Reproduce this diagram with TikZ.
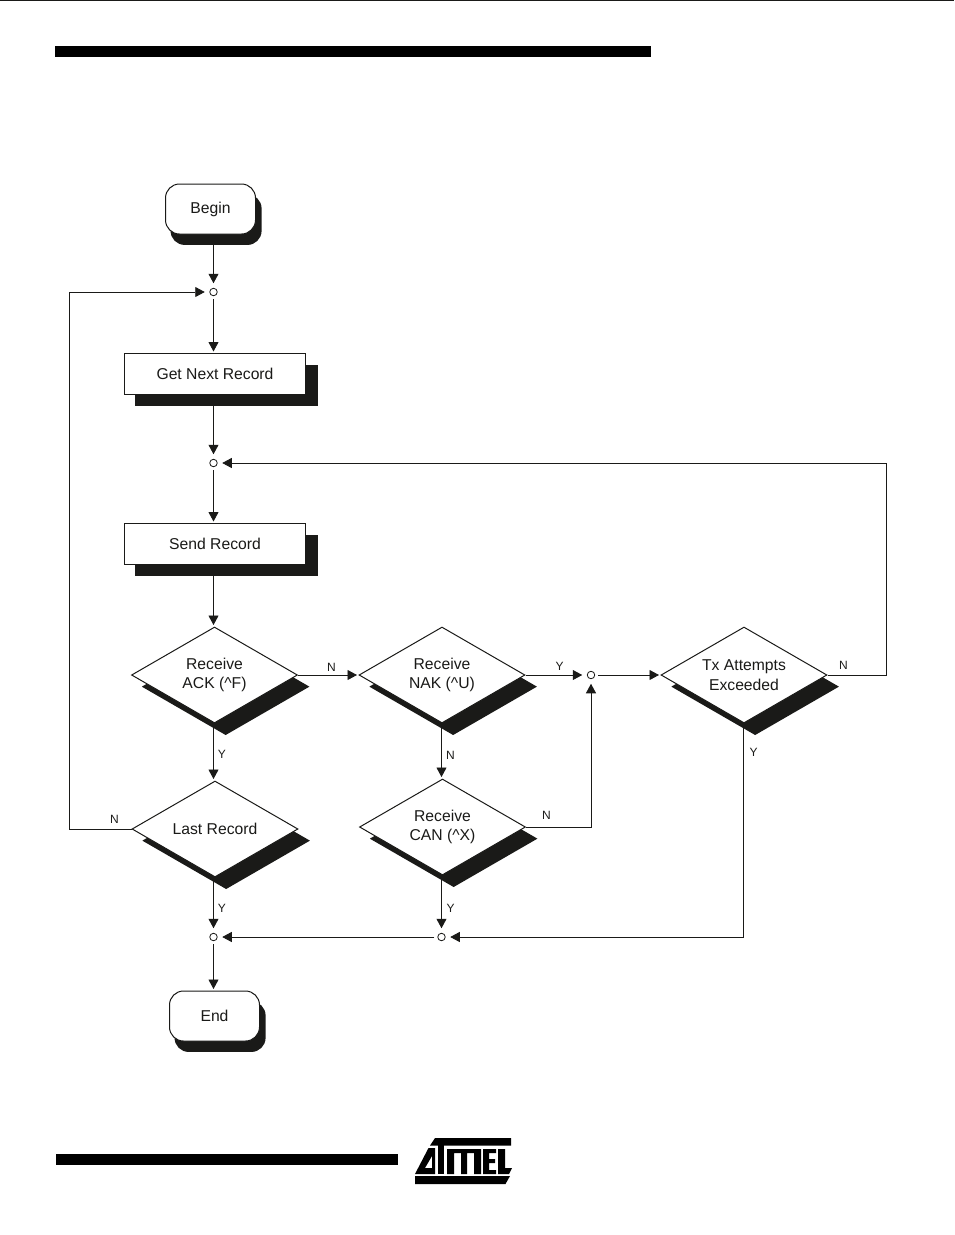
\documentclass[tikz,border=0pt]{standalone}
\usepackage{fontspec}
\setmainfont{Liberation Sans}
\usetikzlibrary{arrows.meta,shapes.geometric,shadows}
\definecolor{inkblack}{HTML}{1A1A18}

\begin{document}
\begin{tikzpicture}
[
x=1pt,y=-1pt,
every node/.style={text=inkblack},
terminal/.style={draw=inkblack,line width=1pt,fill=white,rectangle,rounded corners=14pt,minimum width=90pt,minimum height=50pt,inner sep=0pt,drop shadow={shadow xshift=5.5pt,shadow yshift=-10.5pt,shadow scale=1.012,fill=inkblack,opacity=1},font=\fontsize{15.7}{19.5}\selectfont},
process/.style={draw=inkblack,line width=1pt,fill=white,rectangle,minimum width=181pt,minimum height=41pt,inner sep=0pt,drop shadow={shadow xshift=11pt,shadow yshift=-11.5pt,shadow scale=1.012,fill=inkblack,opacity=1},font=\fontsize{15.7}{19.5}\selectfont},
decision/.style={draw=inkblack,line width=1pt,fill=white,diamond,aspect=1.75,minimum width=166pt,minimum height=96pt,inner sep=0pt,align=center,drop shadow={shadow xshift=11pt,shadow yshift=-11.5pt,shadow scale=1.012,fill=inkblack,opacity=1},font=\fontsize{15.7}{19.5}\selectfont},
junction/.style={draw=inkblack,line width=0.8pt,fill=white,circle,inner sep=0pt,minimum size=7.5pt,outer sep=3.5pt},
flow/.style={draw=inkblack,line width=0.9pt,-{Triangle[length=9.5pt,width=10pt]},shorten >=1.5pt},
flag/.style={font=\fontsize{12}{13}\selectfont,inner sep=0pt},
]
\useasboundingbox (0,0) rectangle (954,1235);

%Page rules
\fill[inkblack] (0,0) rectangle (954,1);
\fill[black] (55,46) rectangle (651,57);
\fill[black] (56,1154) rectangle (398,1165);

%Place the nodes
\node[terminal] (begin) at (210.5,209) {Begin};
\node[junction] (joinA) at (213.5,292) {};
\node[process] (getrec) at (215,374) {Get Next Record};
\node[junction] (joinB) at (213.5,463) {};
\node[process] (sendrec) at (215,544) {Send Record};
\node[decision] (ack) at (214.5,675) {Receive\\ACK (\textasciicircum F)};
\node[decision] (nak) at (442,675) {Receive\\NAK (\textasciicircum U)};
\node[junction] (joinC) at (591,675) {};
\node[decision] (attempts) at (744,675) {Tx Attempts\\Exceeded};
\node[decision] (last) at (215,829) {Last Record};
\node[decision] (can) at (442.5,827) {Receive\\CAN (\textasciicircum X)};
\node[junction] (joinD) at (213.5,937) {};
\node[junction] (joinE) at (441.5,937) {};
\node[terminal] (end) at (214.5,1016) {End};
\coordinate (railL) at (69,292);
\coordinate (railR) at (886.5,463);
\coordinate (railB) at (743.5,937);

%Draw the connections
\draw[flow] (joinA |- begin.south) to (joinA);
\draw[flow] (joinA) to (joinA |- getrec.north);
\draw[flow] (joinB |- getrec.south) to (joinB);
\draw[flow] (joinB) to (joinB |- sendrec.north);
\draw[flow] (joinB |- sendrec.south) to (joinB |- ack.north);
\draw[flow] (ack.east) to (nak.west);
\draw[flow] (joinB |- ack.south) to (joinB |- last.north);
\draw[flow] (nak.east) to (joinC);
\draw[flow] (joinC) to (attempts.west);
\draw[flow] (attempts.east) -| (railR) -- (joinB);
\draw[flow] (joinE |- nak.south) to (joinE |- can.north);
\draw[flow] (can.east) -| (joinC);
\draw[flow] (joinE |- can.south) to (joinE);
\draw[flow] (joinD |- last.south) to (joinD);
\draw[flow] (joinE) to (joinD);
\draw[flow] (railB |- attempts.south) -- (railB) -- (joinE);
\draw[flow] (joinD) to (joinD |- end.north);
\draw[flow] (last.west) -| (railL) -- (joinA);

%Branch labels
\node[flag] at (331.5,667) {N};
\node[flag] at (222,754) {Y};
\node[flag] at (114.5,819) {N};
\node[flag] at (222,908) {Y};
\node[flag] at (559.5,666) {Y};
\node[flag] at (450.5,755) {N};
\node[flag] at (546.5,815) {N};
\node[flag] at (450.5,908) {Y};
\node[flag] at (843.5,665) {N};
\node[flag] at (753.5,752) {Y};

%Logo
\fill[black] (435,1138) -- (511,1138) -- (511,1145.5) -- (430,1145.5) -- cycle;
\fill[black,even odd rule] (428.5,1148) -- (435,1148) -- (435,1174) -- (415,1174) -- cycle (432,1156) -- (432,1168) -- (425,1168) -- cycle;
\fill[black] (437.5,1145) -- (444,1145) -- (444,1174) -- (437.5,1174) -- cycle;
\fill[black] (447,1149) -- (481,1149) -- (481,1174) -- (474,1174) -- (474,1153) -- (467,1153) -- (467,1174) -- (461,1174) -- (461,1153) -- (454,1153) -- (454,1174) -- (447,1174) -- cycle;
\fill[black] (483,1149) -- (496,1149) -- (496,1153) -- (489,1153) -- (489,1159) -- (495,1159) -- (495,1163) -- (489,1163) -- (489,1170) -- (496,1170) -- (496,1174) -- (483,1174) -- cycle;
\fill[black] (498,1149) -- (505,1149) -- (505,1168) -- (512,1168) -- (509,1174) -- (498,1174) -- cycle;
\fill[black] (415,1176) -- (510,1176) -- (505.5,1184) -- (415,1184) -- cycle;
\end{tikzpicture}
\end{document}
